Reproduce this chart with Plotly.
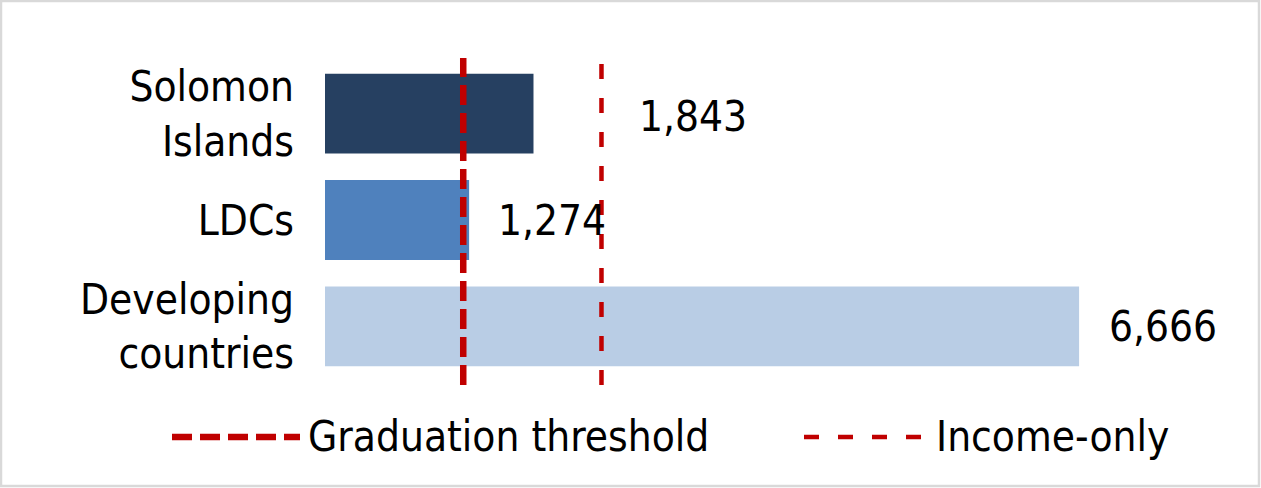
import plotly.graph_objects as go

# values (GNI per capita, US$)
categories = ["Solomon<br>Islands", "LDCs", "Developing<br>countries"]
gni = [1843, 1274, 6666]
bar_colors = ["#264061", "#4F81BD", "#B9CDE5"]
label_shift = [104, 27, 28]

graduation_threshold = 1222
income_only = 2444

W, H = 1261, 488
L, R, T, B = 325, 31, 55, 103
PW, PH = W - L - R, H - T - B
FONT = "DejaVu Sans Condensed, Liberation Sans Narrow, sans-serif"
RED = "#C00000"
GRAD_DASH = "20px,8px"
INCOME_DASH = "15px,19px"


def px_x(px):
    return (px - L) / PW


def px_y(py):
    return (H - B - py) / PH


fig = go.Figure()
fig.add_trace(
    go.Bar(
        y=categories,
        x=gni,
        orientation="h",
        marker=dict(color=bar_colors, line=dict(width=0)),
        width=0.75,
        showlegend=False,
        hoverinfo="x",
    )
)

for cat, v, dx in zip(categories, gni, label_shift):
    fig.add_annotation(
        x=v, y=cat, text=f"{v:,}", showarrow=False,
        xanchor="left", xshift=dx, yshift=-3 if dx > 50 else 0,
        font=dict(size=42, color="black", family=FONT),
    )

# threshold lines
fig.add_shape(type="line", x0=graduation_threshold, x1=graduation_threshold,
              yref="paper", y0=0, y1=px_y(58),
              line=dict(color=RED, width=6.5, dash=GRAD_DASH))
fig.add_shape(type="line", x0=income_only, x1=income_only,
              yref="paper", y0=0, y1=px_y(55),
              line=dict(color=RED, width=4.5, dash=INCOME_DASH))

# hand-made legend (long line samples like the original)
legend_y = px_y(437)
fig.add_shape(type="line", xref="paper", yref="paper",
              x0=px_x(172), x1=px_x(300), y0=legend_y, y1=legend_y,
              line=dict(color=RED, width=6.5, dash=GRAD_DASH))
fig.add_shape(type="line", xref="paper", yref="paper",
              x0=px_x(804), x1=px_x(924), y0=legend_y, y1=legend_y,
              line=dict(color=RED, width=4.5, dash=INCOME_DASH))
fig.add_annotation(xref="paper", yref="paper", x=px_x(306), y=legend_y,
                   text="Graduation threshold", showarrow=False,
                   xanchor="left", yanchor="middle",
                   font=dict(size=42, color="black", family=FONT))
fig.add_annotation(xref="paper", yref="paper", x=px_x(934), y=legend_y,
                   text="Income-only", showarrow=False,
                   xanchor="left", yanchor="middle",
                   font=dict(size=42, color="black", family=FONT))

# light grey frame round the whole picture
fig.add_shape(type="rect", xref="paper", yref="paper",
              x0=px_x(1), x1=px_x(W - 2), y0=px_y(H - 2), y1=px_y(1),
              line=dict(color="#D9D9D9", width=2.5))

fig.update_layout(
    width=W,
    height=H,
    margin=dict(l=L, r=R, t=T, b=B),
    paper_bgcolor="white",
    plot_bgcolor="white",
    font=dict(family=FONT, size=42, color="black"),
    xaxis=dict(range=[0, 8000], visible=False, fixedrange=True),
    yaxis=dict(
        autorange=False,
        range=[2.55, -0.55],
        showgrid=False,
        zeroline=False,
        showline=False,
        ticks="",
        ticklabelstandoff=30,
        tickfont=dict(size=42, color="black", family=FONT),
    ),
)

# the page body has a default 8px margin; drop it so the figure sits at 0,0
fig.write_html(
    "out.html",
    config={"displayModeBar": False},
    post_script="document.body.style.margin='0';",
)
